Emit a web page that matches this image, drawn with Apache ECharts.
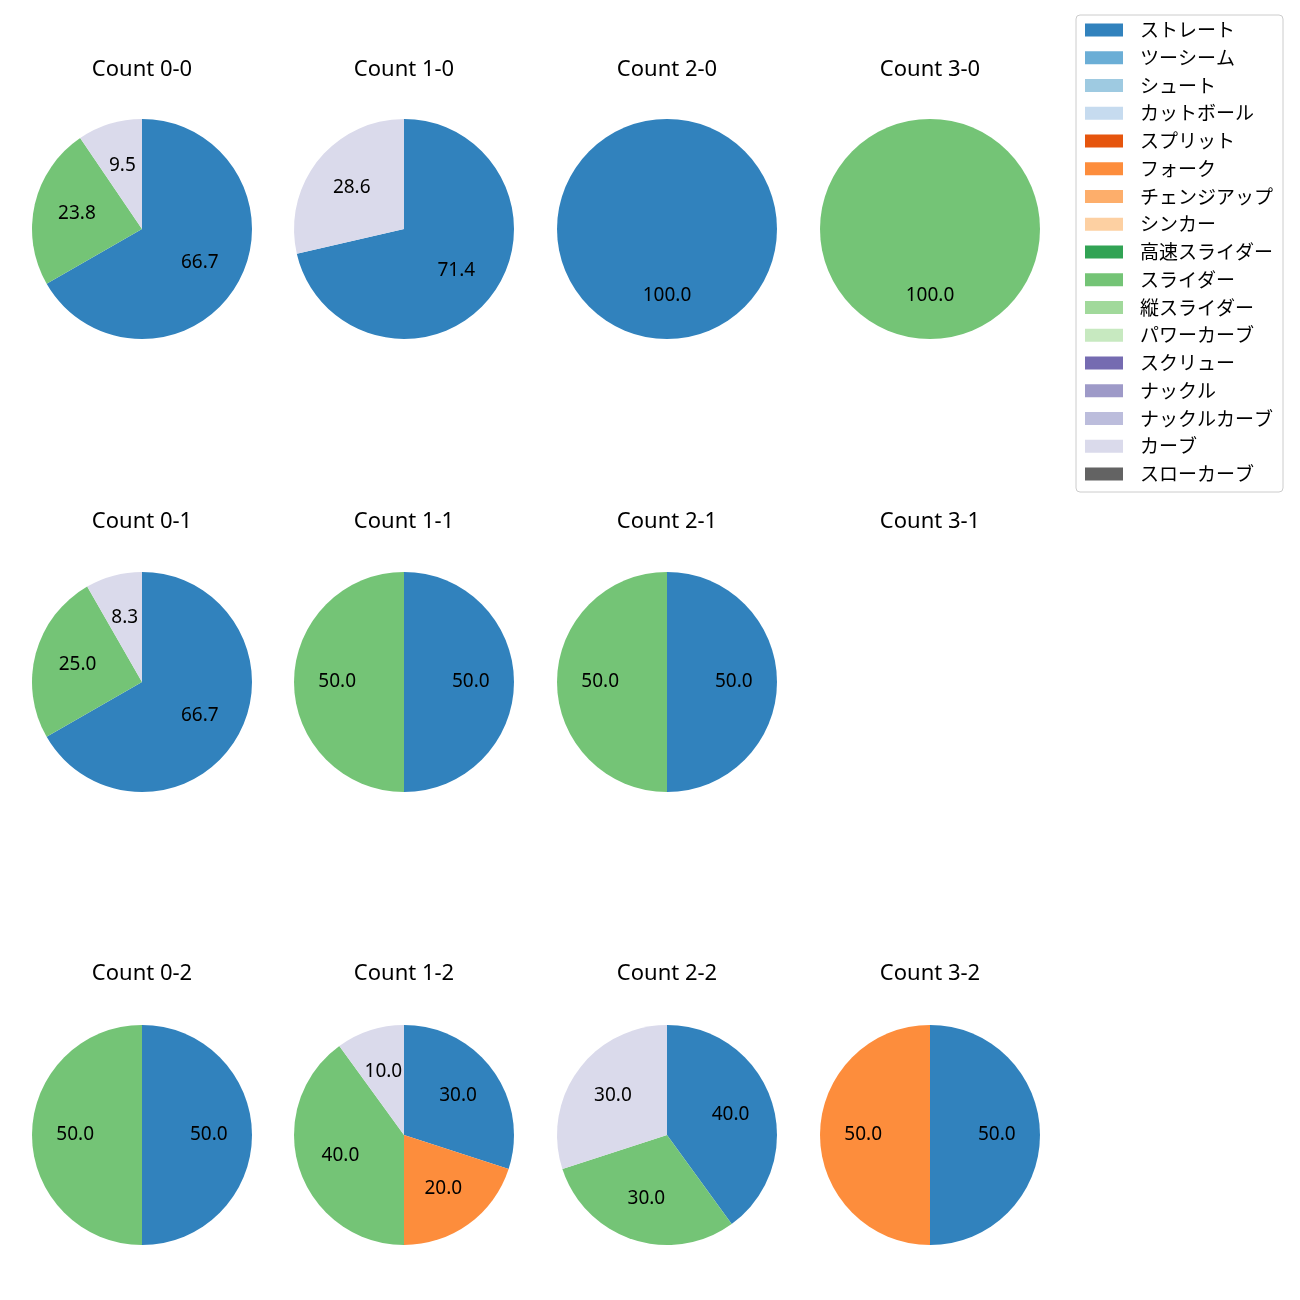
<!DOCTYPE html>
<html><head><meta charset="utf-8">
<script src="https://cdn.jsdelivr.net/npm/echarts@6/dist/echarts.min.js"></script>
<style>html,body{margin:0;padding:0;background:#fff}#c{width:1300px;height:1300px}</style>
</head><body><div id="c"></div>
<script>
const pitchTypes = ['ストレート','ツーシーム','シュート','カットボール','スプリット','フォーク','チェンジアップ','シンカー','高速スライダー','スライダー','縦スライダー','パワーカーブ','スクリュー','ナックル','ナックルカーブ','カーブ','スローカーブ'];
const pitchColors = ['#3182bd','#6baed6','#9ecae1','#c6dbef','#e6550d','#fd8d3c','#fdae6b','#fdd0a2','#31a354','#74c476','#a1d99b','#c7e9c0','#756bb1','#9e9ac8','#bcbddc','#dadaeb','#636363'];
const countTitles = ['Count 0-0','Count 1-0','Count 2-0','Count 3-0','Count 0-1','Count 1-1','Count 2-1','Count 3-1','Count 0-2','Count 1-2','Count 2-2','Count 3-2'];
const count00 = [['ストレート',66.7],['スライダー',23.8],['カーブ',9.5]];
const count10 = [['ストレート',71.4],['カーブ',28.6]];
const count20 = [['ストレート',100.0]];
const count30 = [['スライダー',100.0]];
const count01 = [['ストレート',66.7],['スライダー',25.0],['カーブ',8.3]];
const count11 = [['ストレート',50.0],['スライダー',50.0]];
const count21 = [['ストレート',50.0],['スライダー',50.0]];
const count31 = [];
const count02 = [['ストレート',50.0],['スライダー',50.0]];
const count12 = [['ストレート',30.0],['フォーク',20.0],['スライダー',40.0],['カーブ',10.0]];
const count22 = [['ストレート',40.0],['スライダー',30.0],['カーブ',30.0]];
const count32 = [['ストレート',50.0],['フォーク',50.0]];
const allCounts = [count00,count10,count20,count30,count01,count11,count21,count31,count02,count12,count22,count32];

const colX = [142, 404, 667, 930];
const rowY = [229, 682, 1135];
const titleY = [69, 521, 973];
const R = 110;
const FONT = '"Noto Sans","Noto Sans CJK JP",sans-serif';
const colorOf = n => pitchColors[pitchTypes.indexOf(n)];

const series = [];
const titles = [];
series.push({
  type:'pie', radius:[0,0], center:[-100,-100], silent:true, label:{show:false}, labelLine:{show:false},
  data: pitchTypes.map(n => ({name:n, value:1, itemStyle:{color:colorOf(n)}}))
});
allCounts.forEach((d, i) => {
  const cx = colX[i % 4], cy = rowY[Math.floor(i / 4)];
  titles.push({text: countTitles[i], left: cx - 5, top: titleY[Math.floor(i/4)] - 15, textAlign:'center',
    textStyle:{fontFamily:FONT, fontSize:22, fontWeight:'normal', color:'#000'}});
  if (!d.length) return;
  const data = d.map(([n,v]) => ({name:n, value:v, itemStyle:{color:colorOf(n)}}));
  series.push({type:'pie', center:[cx,cy], radius:[0,R], startAngle:90, clockwise:true,
    avoidLabelOverlap:false, silent:true, label:{show:false}, labelLine:{show:false},
    itemStyle:{borderWidth:0}, emphasis:{disabled:true}, data});
  series.push({type:'pie', center:[cx,cy], radius:[R*0.16,R], startAngle:90, clockwise:true,
    avoidLabelOverlap:false, silent:true, labelLine:{show:false}, emphasis:{disabled:true},
    itemStyle:{color:'rgba(0,0,0,0)', borderWidth:0},
    label:{show:true, position:'inside', color:'#000', fontFamily:FONT, fontSize:19,
      formatter: p => p.value.toFixed(1)},
    data: d.map(([n,v]) => ({name:n, value:v}))});
});

const chart = echarts.init(document.getElementById('c'), null, {renderer:'canvas'});
chart.setOption({
  animation:false,
  title: titles,
  legend: {
    orient:'vertical', left:1076, top:15, data: pitchTypes,
    icon:'rect', itemWidth:38, itemHeight:13, itemGap:7.75,
    padding:[5,10,8,9], borderColor:'#cccccc', borderWidth:1, borderRadius:4,
    textStyle:{fontFamily:'"Noto Sans CJK JP",sans-serif', fontSize:19, lineHeight:20, color:'#000', padding:[0,0,0,12]},
    selectedMode:false
  },
  series
});
</script></body></html>
